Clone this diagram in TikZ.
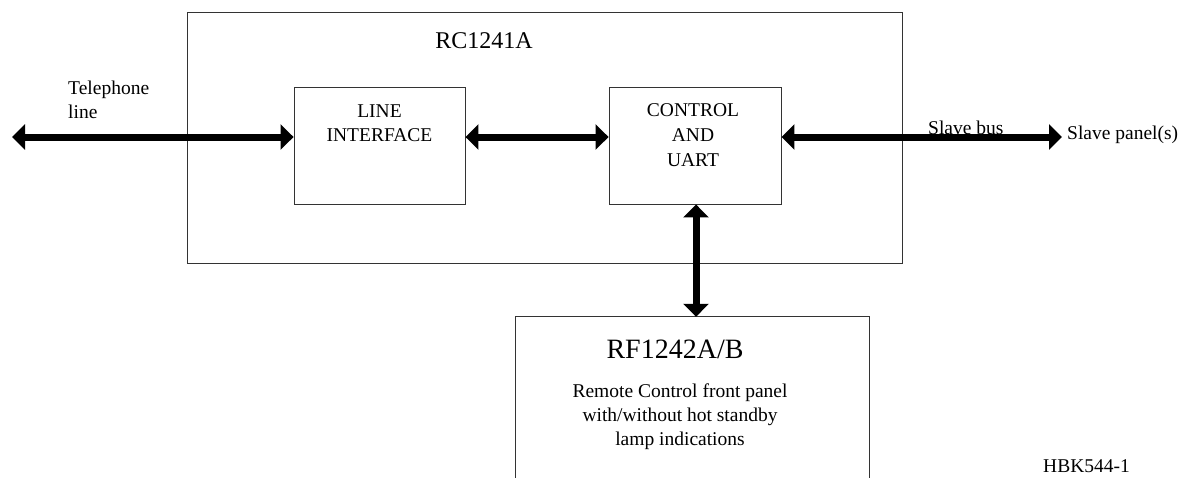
\documentclass[tikz,border=0pt]{standalone}
\usepackage{fontspec}
\setmainfont{Liberation Serif}
\usetikzlibrary{arrows.meta}
\tikzset{
  box/.style={draw=black!80, line width=0.9pt, inner sep=0pt},
  bus/.style={line width=7pt, {Triangle[length=13pt,width=25pt]}-{Triangle[length=13pt,width=25pt]}, shorten <=0pt, shorten >=0pt},
  lbl/.style={anchor=base west, inner sep=0pt, font=\fontsize{19.5}{24}\selectfont},
  clbl/.style={anchor=base, inner sep=0pt, font=\fontsize{19.5}{24}\selectfont},
}
\begin{document}
\begin{tikzpicture}[x=1pt,y=-1pt]
\useasboundingbox (0,0) rectangle (1188,477);
\clip (0,0) rectangle (1188,477);
% outer box
\node[box, minimum width=715, minimum height=251] (rc) at (544.5,137.5) {};
\node[anchor=base, inner sep=0pt, font=\fontsize{24}{28}\selectfont] (rct) at (484,48) {RC1241A};
% line interface
\node[box, minimum width=171, minimum height=117] (li) at (379.5,145.5) {};
\node[clbl] (lit1) at (379.5,117) {LINE};
\node[clbl] (lit2) at (379.5,141) {INTERFACE};
% control
\node[box, minimum width=172, minimum height=117] (cu) at (695,145.5) {};
\node[clbl] (cut1) at (693,116) {CONTROL};
\node[clbl] (cut2) at (693,141) {AND};
\node[clbl] (cut3) at (693,166) {UART};
% RF box (open at bottom)
\node[inner sep=0pt, minimum width=353, minimum height=180] (rf) at (692.5,407) {};
\draw[black!80, line width=0.9pt] (rf.south west) -- (rf.north west) -- (rf.north east) -- (rf.south east);
\node[anchor=base, inner sep=0pt, font=\fontsize{28}{32}\selectfont] (rft) at (675,358) {RF1242A/B};
\node[clbl] (rf1) at (680,397) {Remote Control front panel};
\node[clbl] (rf2) at (680,421) {with/without hot standby};
\node[clbl] (rf3) at (680,445) {lamp indications};
% labels
\node[lbl] (tel1) at (68,94) {Telephone};
\node[lbl] (tel2) at (68,118) {line};
\node[lbl] (sb) at (928,134) {Slave bus};
\node[lbl] (sp) at (1067,139) {Slave panel(s)};
\node[lbl] (hbk) at (1043,472) {HBK544-1};
% connectors
\coordinate (telend) at (12,137);
\coordinate (spend) at (1062,137);
\draw[bus] (telend) -- (li.west |- telend);
\draw[bus] (li.east |- telend) -- (cu.west |- telend);
\draw[bus] (cu.east |- spend) -- (spend);
\draw[bus] (cu.south -| 696,0) -- (rf.north -| 696,0);
\end{tikzpicture}
\end{document}
